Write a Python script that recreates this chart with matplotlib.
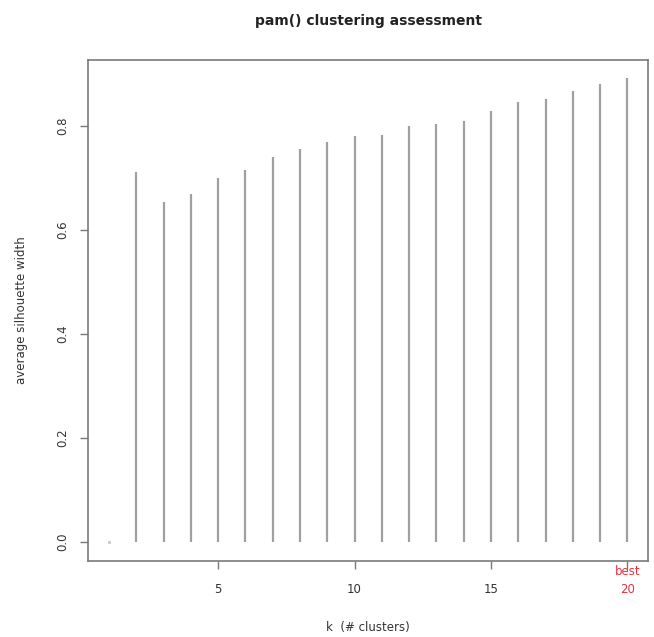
import matplotlib
matplotlib.use("Agg")
import matplotlib.pyplot as plt

# average silhouette width per number of clusters k (k=1 is 0 by definition)
k_values = list(range(1, 21))
sil_width = [0.0, 0.712, 0.654, 0.670, 0.700, 0.716, 0.741, 0.756, 0.769, 0.781,
             0.783, 0.800, 0.804, 0.810, 0.829, 0.846, 0.852, 0.867, 0.882, 0.892]
x_ticks = [5, 10, 15, 20]
y_ticks = [0.0, 0.2, 0.4, 0.6, 0.8]
y_tick_labels = ["0.0", "0.2", "0.4", "0.6", "0.8"]

fig = plt.figure(figsize=(6.54, 6.37), dpi=100)
ax = fig.add_axes([0.135, 0.12, 0.856, 0.786])

line_col = "#a0a0a0"
box_col = "#7a7a7a"

# R style type="h": vertical lines from 0
ax.vlines(k_values[1:], 0, sil_width[1:], colors=line_col, linewidth=1.6)
ax.plot(k_values[:1], sil_width[:1], marker="s", markersize=1.2, color="#cccccc", linestyle="none")

xmin, xmax = min(k_values), max(k_values)
ymax = max(sil_width)
ax.set_xlim(xmin - 0.04 * (xmax - xmin), xmax + 0.04 * (xmax - xmin))
ax.set_ylim(-0.04 * ymax, ymax * 1.04)

ax.set_xticks(x_ticks)
ax.set_xticklabels([str(t) for t in x_ticks])
ax.set_yticks(y_ticks)
ax.set_yticklabels(y_tick_labels, rotation=90, va="center")

for s in ax.spines.values():
    s.set_color(box_col)
    s.set_linewidth(1.2)

ax.tick_params(axis="both", direction="out", length=6, width=1, color=box_col,
               labelsize=8.5, labelcolor="#333333")
ax.tick_params(axis="x", pad=10)
ax.tick_params(axis="y", pad=8)

# best k marked in red
best_k = k_values[sil_width.index(max(sil_width))]
for lab in ax.get_xticklabels():
    if lab.get_text() == str(best_k):
        lab.set_color("#e8323c")
ax.text(best_k, -0.056, "best", color="#e8323c", fontsize=8.5, ha="center", va="center")

ax.set_xlabel("k  (# clusters)", fontsize=8.5, color="#333333", labelpad=18)
ax.set_ylabel("average silhouette width", fontsize=8.5, color="#333333", labelpad=20)
ax.set_title("pam() clustering assessment", fontsize=10, fontweight="bold", color="#222222", pad=25)

fig.savefig("out.png", dpi=100)
